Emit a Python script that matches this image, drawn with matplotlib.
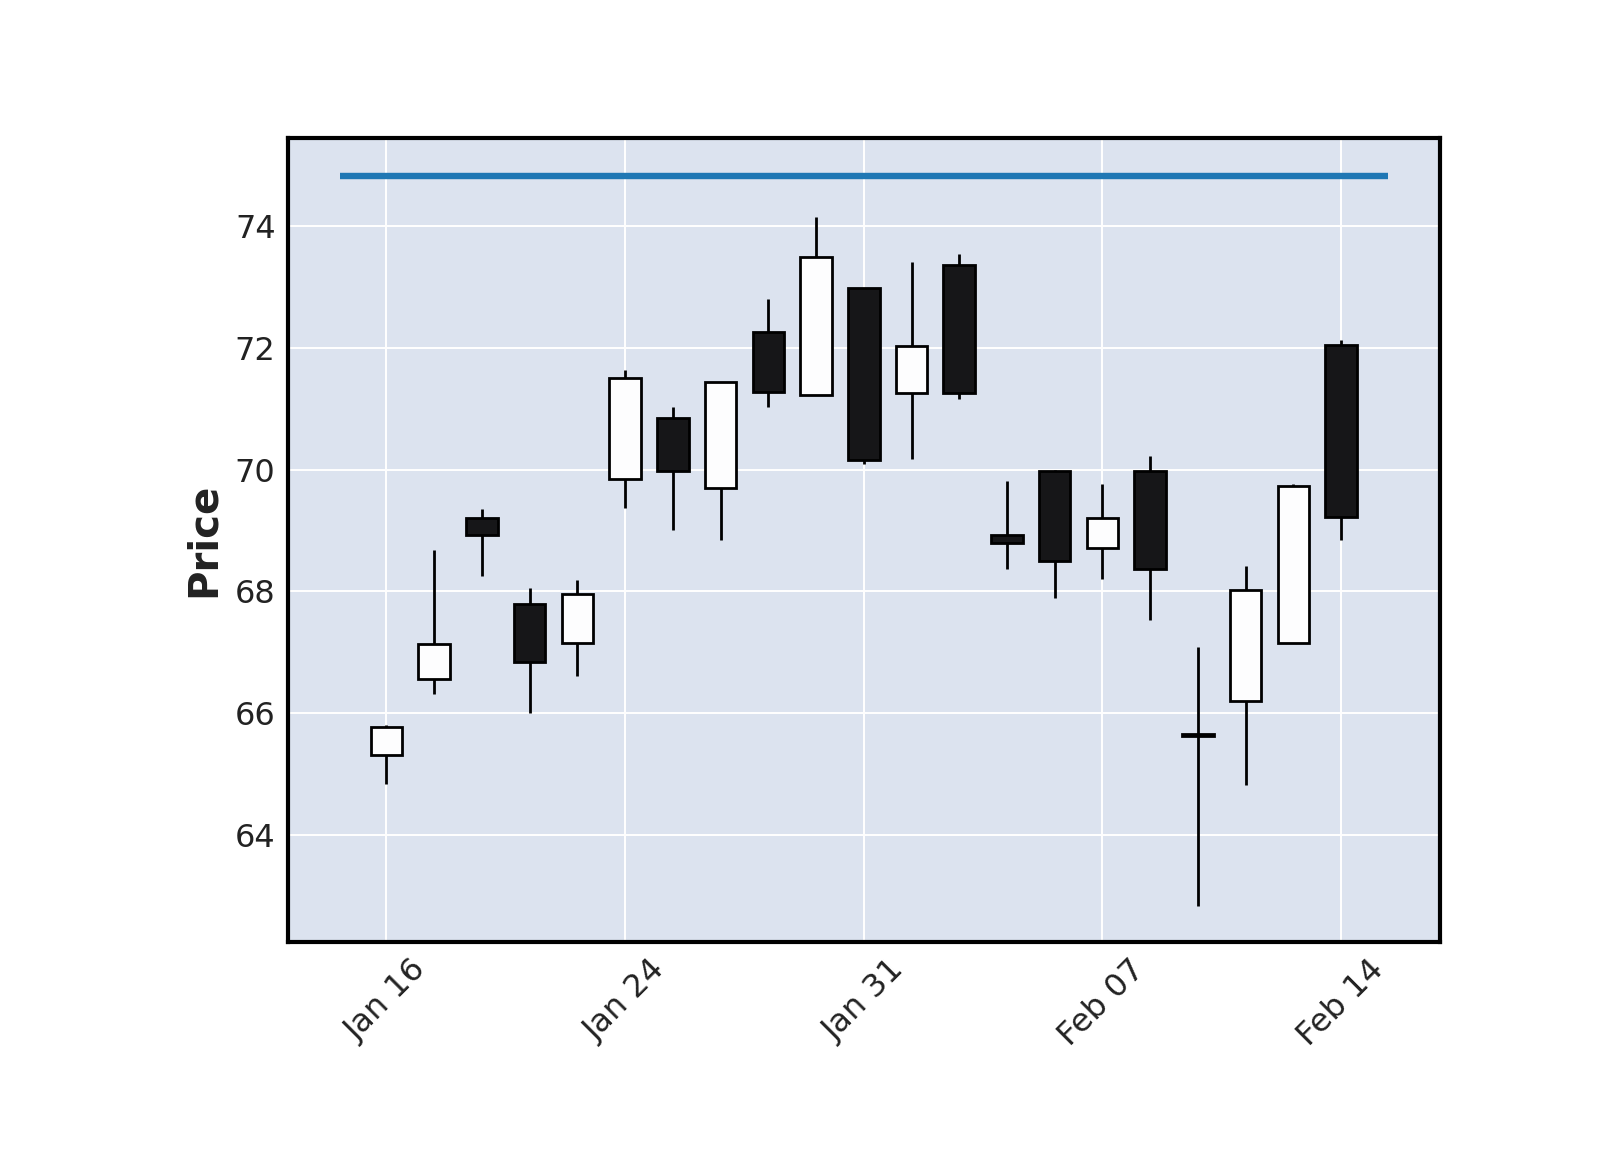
import matplotlib
matplotlib.use('Agg')
import matplotlib.pyplot as plt
import numpy as np
import pandas as pd

# daily OHLC, Jan 16 - Feb 14 2020 (trading days only)
dates = ['2020-01-16', '2020-01-17', '2020-01-21', '2020-01-22', '2020-01-23',
         '2020-01-24', '2020-01-27', '2020-01-28', '2020-01-29', '2020-01-30',
         '2020-01-31', '2020-02-03', '2020-02-04', '2020-02-05', '2020-02-06',
         '2020-02-07', '2020-02-10', '2020-02-11', '2020-02-12', '2020-02-13',
         '2020-02-14']
opens = [65.31, 66.56, 69.20, 67.80, 67.16, 69.85, 70.84, 69.70, 72.25, 71.23,
         72.98, 71.26, 73.35, 68.92, 69.98, 68.72, 69.98, 65.66, 66.21, 67.16,
         72.05]
highs = [65.81, 68.68, 69.36, 68.05, 68.18, 71.63, 71.03, 71.43, 72.80, 74.15,
         72.98, 73.40, 73.54, 69.81, 70.00, 69.77, 70.23, 67.09, 68.41, 69.77,
         72.12]
lows = [64.84, 66.31, 68.26, 66.00, 66.62, 69.37, 69.00, 68.84, 71.03, 71.23,
        70.09, 70.17, 71.16, 68.36, 67.89, 68.20, 67.53, 62.84, 64.82, 67.16,
        68.84]
closes = [65.78, 67.13, 68.93, 66.84, 67.96, 71.51, 69.98, 71.43, 71.27, 73.49,
          70.15, 72.02, 71.25, 68.80, 68.50, 69.20, 68.36, 65.64, 68.03, 69.73,
          69.22]
hline_level = 74.82

dates = pd.to_datetime(dates)
opens = np.array(opens)
closes = np.array(closes)
x = np.arange(len(dates))
up = closes >= opens

fig = plt.figure(figsize=(8, 5.75), dpi=200)
ax = fig.add_axes([0.18, 0.181, 0.72, 0.699])
ax.set_facecolor('#DCE3EF')
ax.set_axisbelow(True)
ax.grid(True, color='white', linewidth=0.7)

# wicks then bodies
ax.vlines(x, lows, highs, color='black', linewidth=1.0, zorder=2)
body_colors = np.where(up, '#FDFDFE', '#161618')
heights = closes - opens
heights = np.where(np.abs(heights) < 0.03, np.where(up, 0.03, -0.03), heights)
ax.bar(x, heights, bottom=opens, width=0.66, color=body_colors,
       edgecolor='black', linewidth=1.0, zorder=3)

ax.hlines(hline_level, x[0] - 0.97, x[-1] + 0.98, color='#1f77b4', linewidth=2.3, zorder=4)

ax.set_xlim(-2.06, 22.07)
ax.set_ylim(62.25, 75.44)
ax.set_yticks([64, 66, 68, 70, 72, 74])
tick_pos = x[::5]
ax.set_xticks(tick_pos)
ax.set_xticklabels([dates[i].strftime('%b %d') for i in tick_pos], rotation=45, ha='center')
ax.tick_params(length=0, labelsize=11.5, pad=4.5, labelcolor='#222222')
ax.set_ylabel('Price', fontsize=14.5, fontweight='bold', color='#222222', labelpad=4)

for s in ax.spines.values():
    s.set_linewidth(1.5)
    s.set_color('black')

fig.savefig('out.png', dpi=200)
